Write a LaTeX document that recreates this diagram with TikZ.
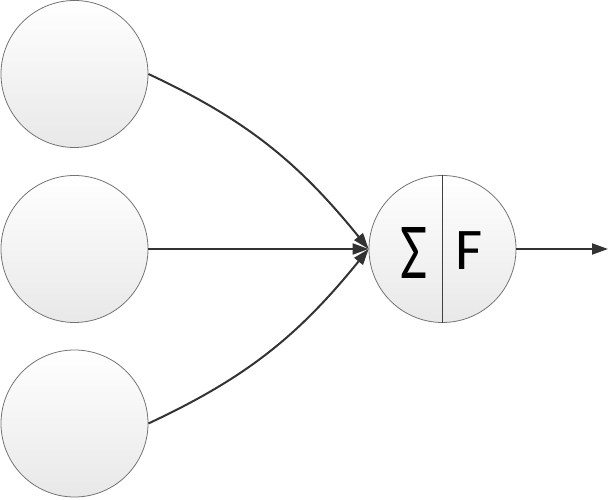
\documentclass[tikz,border=0pt]{standalone}
\usepackage{fontspec}
\usepackage{graphicx}
\setmainfont{Carlito}
\usetikzlibrary{arrows.meta, positioning}

\begin{document}
\begin{tikzpicture}[x=1pt, y=1pt,
  unit/.style={circle, draw=black!55, line width=0.8pt, minimum size=147pt, inner sep=0pt,
    top color=white, bottom color=black!9},
  link/.style={draw=black!80, line width=2pt, -{Triangle[length=16pt, width=11pt]}}]

  \useasboundingbox (0,0) rectangle (610,500);

  % Input units
  \node (in1) [unit] at (74.5,426) {};
  \node (in2) [unit] at (74.5,251) {};
  \node (in3) [unit] at (74.5,76.5) {};

  % Summing unit
  \node (neuron) [unit] at (442.5,251) {};
  \draw[black!75, line width=1pt] (neuron.north) -- (neuron.south);
  \node (sigma) [inner sep=0pt] at (413.5,247.5) {\resizebox{27pt}{51pt}{Σ}};
  \node (fn) [inner sep=0pt] at (469,249) {\fontsize{59}{59}\selectfont F};

  % Output end
  \coordinate (out) at (608,251);

  % Connections
  \draw[link] (in1.east) to[out=-25, in=129] (neuron.west);
  \draw[link] (in2.east) -- (neuron.west);
  \draw[link] (in3.east) to[out=25, in=-129] (neuron.west);
  \draw[link] (neuron.east) -- (out);

\end{tikzpicture}
\end{document}
